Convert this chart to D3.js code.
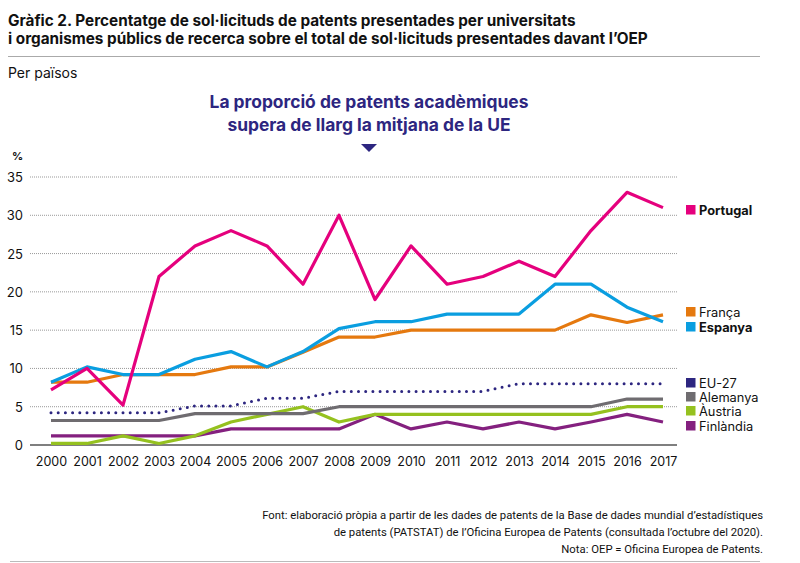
<!DOCTYPE html>
<html><head><meta charset="utf-8">
<script src="https://cdn.jsdelivr.net/npm/d3@7"></script>
<style>body{margin:0;background:#fff;} svg{display:block;font-family:Inter, "Liberation Sans", sans-serif;}</style>
</head><body><svg id="c" width="800" height="563"></svg>
<script>
const years = [2000,2001,2002,2003,2004,2005,2006,2007,2008,2009,2010,2011,2012,2013,2014,2015,2016,2017];
const portugal = [7.2,10,5.2,22,26,28,26,21,30,19,26,21,22,24,22,28,33,31];
const espanya = [8.2,10.2,9.2,9.2,11.2,12.2,10.2,12.2,15.2,16.1,16.1,17.1,17.1,17.1,21,21,18,16.1];
const franca = [8.2,8.2,9.2,9.2,9.2,10.2,10.2,12.1,14.1,14.1,15,15,15,15,15,17,16,17];
const eu27 = [4.2,4.2,4.2,4.2,5.1,5.1,6.1,6.1,7,7,7,7,7,8,8,8,8,8];
const alemanya = [3.2,3.2,3.2,3.2,4.1,4.1,4.1,4.1,5,5,5,5,5,5,5,5,6,6];
const austria = [0.2,0.2,1.2,0.2,1.2,3,4,5,3,4,4,4,4,4,4,4,5,5];
const finlandia = [1.2,1.2,1.2,1.2,1.2,2.1,2.1,2.1,2.1,4,2.1,3,2.1,3,2.1,3,4,3];
const yTicks = [0,5,10,15,20,25,30,35];

const series = [
  {name:"Finlàndia", values:finlandia, color:"#84207f", dash:false},
  {name:"Àustria", values:austria, color:"#95c11f", dash:false},
  {name:"Alemanya", values:alemanya, color:"#6f6c70", dash:false},
  {name:"EU-27", values:eu27, color:"#2d2680", dash:true},
  {name:"França", values:franca, color:"#e5790f", dash:false},
  {name:"Espanya", values:espanya, color:"#0a9ee0", dash:false},
  {name:"Portugal", values:portugal, color:"#e5007d", dash:false}
];
const legend = [
  {name:"Portugal", color:"#e5007d", bold:true, y:210},
  {name:"França", color:"#e5790f", bold:false, y:312},
  {name:"Espanya", color:"#0a9ee0", bold:true, y:327},
  {name:"EU-27", color:"#2d2680", bold:false, y:383},
  {name:"Alemanya", color:"#6f6c70", bold:false, y:397},
  {name:"Àustria", color:"#95c11f", bold:false, y:411},
  {name:"Finlàndia", color:"#84207f", bold:false, y:426}
];

const svg = d3.select("#c");
const x = d3.scalePoint().domain(years).range([51,663]);
const y = d3.scaleLinear().domain([0,35]).range([445,177]);

// title
svg.append("text").attr("x",8).attr("y",26).attr("font-size",15.3).attr("font-weight",700).attr("fill","#111")
  .text("Gràfic 2. Percentatge de sol·licituds de patents presentades per universitats");
svg.append("text").attr("x",8).attr("y",44).attr("font-size",15.3).attr("font-weight",700).attr("fill","#111")
  .text("i organismes públics de recerca sobre el total de sol·licituds presentades davant l’OEP");
svg.append("line").attr("x1",8).attr("x2",760).attr("y1",56.5).attr("y2",56.5).attr("stroke","#aaa").attr("stroke-width",1);
svg.append("text").attr("x",8).attr("y",78).attr("font-size",14).attr("fill","#111").text("Per països");

// annotation
svg.append("text").attr("x",369).attr("y",108).attr("text-anchor","middle").attr("font-size",17.4).attr("font-weight",700).attr("fill","#2d2680")
  .text("La proporció de patents acadèmiques");
svg.append("text").attr("x",369).attr("y",131).attr("text-anchor","middle").attr("font-size",17.4).attr("font-weight",700).attr("fill","#2d2680")
  .text("supera de llarg la mitjana de la UE");
svg.append("path").attr("d","M361,144 L377,144 L369,152 Z").attr("fill","#2d2680");

// grid
svg.append("g").selectAll("line").data(yTicks.filter(d=>d>0)).join("line")
  .attr("x1",30).attr("x2",677).attr("y1",d=>y(d)).attr("y2",d=>y(d))
  .attr("stroke","#999").attr("stroke-width",1).attr("stroke-dasharray","1,1");
svg.append("line").attr("x1",30).attr("x2",677).attr("y1",y(0)).attr("y2",y(0)).attr("stroke","#555").attr("stroke-width",1.3);

// y axis labels
const yAxis = d3.axisLeft(y).tickValues(yTicks).tickSize(0).tickPadding(0);
const ga = svg.append("g").attr("transform","translate(23,0)").call(yAxis);
ga.select(".domain").remove();
ga.selectAll("text").attr("font-size",13).attr("fill","#111").attr("font-family","Inter, sans-serif").attr("dy","0.35em");
svg.append("text").attr("x",12).attr("y",160).attr("font-size",11).attr("font-weight",700).attr("fill","#111").text("%");

// x axis labels
const xAxis = d3.axisBottom(x).tickSize(0).tickPadding(0);
const gx = svg.append("g").attr("transform","translate(0,457)").call(xAxis);
gx.select(".domain").remove();
gx.selectAll("text").attr("font-size",12.5).attr("fill","#111").attr("font-family","Inter, sans-serif").attr("dy","0.71em");

// lines
const line = d3.line().x((d,i)=>x(years[i])).y(d=>y(d));
series.forEach(s=>{
  const p = svg.append("path").datum(s.values).attr("d",line).attr("fill","none")
    .attr("stroke",s.color).attr("stroke-width",s.dash?3:3.2).attr("stroke-linejoin","round");
  if(s.dash) p.attr("stroke-dasharray","0,7.2").attr("stroke-linecap","round");
});

// legend
const lg = svg.append("g").selectAll("g").data(legend).join("g").attr("transform",d=>`translate(686,${d.y})`);
lg.append("rect").attr("x",0).attr("y",-5).attr("width",9.5).attr("height",9.5).attr("fill",d=>d.color);
lg.append("text").attr("x",13).attr("y",0).attr("dy","0.36em").attr("font-size",12.8).attr("font-weight",d=>d.bold?700:400).attr("fill","#111").text(d=>d.name);

// footer
const foot = ["Font: elaboració pròpia a partir de les dades de patents de la Base de dades mundial d’estadístiques",
  "de patents (PATSTAT) de l’Oficina Europea de Patents (consultada l’octubre del 2020).",
  "Nota: OEP = Oficina Europea de Patents."];
svg.append("g").selectAll("text").data(foot).join("text").attr("x",763).attr("y",(d,i)=>518.5+i*17.3)
  .attr("text-anchor","end").attr("font-size",11.3).attr("font-family","Roboto, sans-serif").attr("fill","#111").text(d=>d);
svg.append("line").attr("x1",10).attr("x2",760).attr("y1",561.5).attr("y2",561.5).attr("stroke","#bbb").attr("stroke-width",1);
</script></body></html>
